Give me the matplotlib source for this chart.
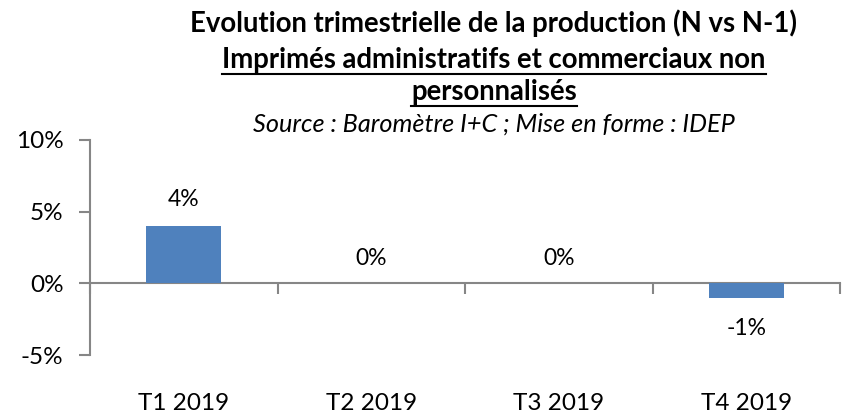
import matplotlib
matplotlib.use("Agg")
import matplotlib.pyplot as plt
import numpy as np

categories = ["T1 2019", "T2 2019", "T3 2019", "T4 2019"]
values = [4, 0, 0, -1]          # percent
value_labels = ["4%", "0%", "0%", "-1%"]
yticks = [-5, 0, 5, 10]
ytick_labels = ["-5%", "0%", "5%", "10%"]

title1 = "Evolution trimestrielle de la production (N vs N-1)"
title2 = "Imprimés administratifs et commerciaux non"
title3 = "personnalisés"
subtitle = "Source : Baromètre I+C ; Mise en forme : IDEP"

plt.rcParams['font.family'] = ['Lato', 'DejaVu Sans']

W, H = 842, 418
fig = plt.figure(figsize=(W / 100, H / 100), dpi=100)
ax = fig.add_axes([90 / W, (H - 355) / H, 750 / W, 215 / H])

grey = "#868686"
blue = "#4F81BD"
x = np.arange(len(categories))
ax.bar(x, values, width=0.4, color=blue, zorder=3)

ax.set_xlim(-0.5, len(categories) - 0.5)
ax.set_ylim(-5, 10)
ax.set_yticks(yticks)
ax.set_yticklabels(ytick_labels, fontsize=17.5)
ax.tick_params(axis='y', direction='out', length=8, width=1.5, color=grey, pad=11)

for s in ['top', 'right']:
    ax.spines[s].set_visible(False)
ax.spines['left'].set_color(grey)
ax.spines['left'].set_linewidth(1.5)
ax.spines['bottom'].set_position(('data', 0))
ax.spines['bottom'].set_color(grey)
ax.spines['bottom'].set_linewidth(1.5)

ax.set_xticks(x)
ax.set_xticklabels(categories, fontsize=17.5)
ax.set_xticks(np.arange(len(categories) + 1) - 0.5, minor=True)
ax.tick_params(axis='x', which='major', length=0, pad=79)
ax.tick_params(axis='x', which='minor', direction='out', length=8, width=1.5, color=grey)

for xi, v, lab in zip(x, values, value_labels):
    if v > 0:
        off = 26
    elif v < 0:
        off = -31
    else:
        off = 25
    ax.annotate(lab, (xi, v), xytext=(0, off), textcoords='offset pixels',
                ha='center', va='center', fontsize=16.5)

# titles
cx = 494 / W
t1 = fig.text(cx, 1 - 32 / H, title1, ha='center', va='baseline',
              fontsize=19.8, fontweight='bold')
t2 = fig.text(cx, 1 - 68 / H, title2, ha='center', va='baseline',
              fontsize=19.8, fontweight='bold')
t3 = fig.text(cx, 1 - 100 / H, title3, ha='center', va='baseline',
              fontsize=19.8, fontweight='bold')
fig.text(cx, 1 - 132 / H, subtitle, ha='center', va='baseline',
         fontsize=18.2, fontstyle='italic')

fig.canvas.draw()
r = fig.canvas.get_renderer()
for t, base in ((t2, 68), (t3, 100)):
    bb = t.get_window_extent(renderer=r)
    yline = 1 - (base + 6) / H
    fig.add_artist(plt.Line2D([bb.x0 / W, bb.x1 / W], [yline, yline],
                              color='black', linewidth=1.5))

fig.savefig("out.png", dpi=100)
